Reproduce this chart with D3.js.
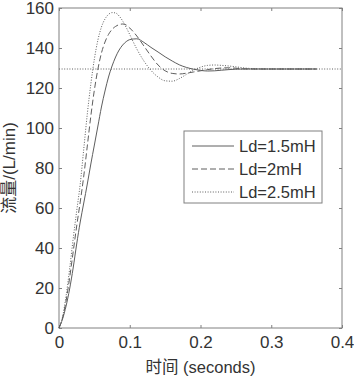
<!DOCTYPE html>
<html><head><meta charset="utf-8">
<script src="https://cdn.jsdelivr.net/npm/d3@7"></script>
<style>html,body{margin:0;padding:0;background:#fff;}svg{display:block;}</style>
</head><body>
<script>
const timeS = [0,0.005,0.01,0.015,0.02,0.025,0.03,0.035,0.04,0.045,0.05,0.055,0.06,0.065,0.07,0.075,0.08,0.085,0.09,0.095,0.1,0.11,0.12,0.13,0.14,0.15,0.16,0.17,0.18,0.19,0.2,0.21,0.22,0.23,0.24,0.25,0.26,0.28,0.3,0.33,0.364];
const ld15 = [0,4.5,11,19.5,30,42,53,62.5,72,82,91.5,101,110.5,118.5,125.5,131,135.5,139,141.5,143.2,144.2,144.6,142.8,140.3,138,135.6,133.5,131.6,130.3,129.4,128.8,128.5,128.6,128.9,129.2,129.4,129.5,129.5,129.5,129.5,129.5];
const ld2 = [0,5,13.5,25,38,51,63,76,91,106,119,129.5,137.5,143,146.8,149.3,150.8,151.7,152,151.5,150,146,141,136,131.5,128.6,127.3,127,127.4,128,128.6,129.2,129.7,130,130.1,129.9,129.6,129.5,129.5,129.5,129.5];
const ld25 = [0,5.5,16,29.5,44.5,58.5,72,89.5,107,122,134.5,144,150.5,154.5,156.8,157.7,157.5,156,153.5,150.3,146.7,139.5,133.5,128.8,125.5,123.6,123.4,124.7,126.8,128.9,130.4,131.3,131.5,131.3,131,130.6,130.1,129.6,129.5,129.5,129.5];
const refValue = 129.5;
const xTicks = [0,0.1,0.2,0.3,0.4];
const yTicks = [0,20,40,60,80,100,120,140,160];
const seriesNames = ["Ld=1.5mH","Ld=2mH","Ld=2.5mH"];
const seriesData = [ld15, ld2, ld25];
const dashes = [null, "6,3", "1,1.6"];

const W = 354, H = 376;
const m = {l:59, r:12, t:8, b:48};
const svg = d3.select("body").append("svg").attr("width",W).attr("height",H);
const x = d3.scaleLinear().domain([0,0.4]).range([m.l, W-m.r]);
const y = d3.scaleLinear().domain([0,160]).range([H-m.b, m.t]);
const axisCol = "#808080", textCol = "#333", lineCol = "#5e5e5e";
const font = "Liberation Sans, Arial, sans-serif";

svg.append("rect").attr("x",x(0)).attr("y",y(160)).attr("width",x(0.4)-x(0)).attr("height",y(0)-y(160))
  .attr("fill","none").attr("stroke",axisCol).attr("stroke-width",1);

const tl = 3;
const gx = svg.append("g").attr("transform",`translate(0,${y(0)})`)
  .call(d3.axisBottom(x).tickValues(xTicks).tickSize(-tl).tickPadding(8).tickFormat(d=>d===0?"0":d3.format(".1f")(d)));
const gxt = svg.append("g").attr("transform",`translate(0,${y(160)})`)
  .call(d3.axisTop(x).tickValues(xTicks).tickSize(-tl).tickFormat(""));
const gy = svg.append("g").attr("transform",`translate(${x(0)},0)`)
  .call(d3.axisLeft(y).tickValues(yTicks).tickSize(-tl).tickPadding(5));
const gyr = svg.append("g").attr("transform",`translate(${x(0.4)},0)`)
  .call(d3.axisRight(y).tickValues(yTicks).tickSize(-tl).tickFormat(""));
[gx,gxt,gy,gyr].forEach(g=>{
  g.select(".domain").remove();
  g.selectAll(".tick line").attr("stroke",axisCol);
  g.selectAll("text").attr("fill",textCol).style("font-family",font).style("font-size","17px");
});

svg.append("line").attr("x1",x(0)).attr("x2",x(0.4)).attr("y1",y(refValue)).attr("y2",y(refValue))
  .attr("stroke",lineCol).attr("stroke-width",1).attr("stroke-dasharray","1,1.6");

const line = d3.line().x((d,i)=>x(timeS[i])).y(d=>y(d)).curve(d3.curveMonotoneX);
seriesData.forEach((s,k)=>{
  svg.append("path").attr("d",line(s)).attr("fill","none").attr("stroke",lineCol)
    .attr("stroke-width",1).attr("stroke-dasharray",dashes[k]);
});

const lg = svg.append("g").attr("transform","translate(184,131)");
lg.append("rect").attr("width",138).attr("height",72).attr("fill","#fff").attr("stroke",axisCol);
seriesNames.forEach((n,k)=>{
  const yy = 15 + k*23;
  lg.append("line").attr("x1",8).attr("x2",50).attr("y1",yy).attr("y2",yy)
    .attr("stroke",lineCol).attr("stroke-dasharray",dashes[k]);
  lg.append("text").attr("x",55).attr("y",yy).attr("dy","0.35em").text(n)
    .attr("fill",textCol).style("font-family",font).style("font-size","16.5px");
});

svg.append("text").attr("x",(x(0)+x(0.4))/2).attr("y",373).attr("text-anchor","middle")
  .attr("fill",textCol).style("font-family","Liberation Sans, 'Noto Sans CJK SC', sans-serif").style("font-size","16.5px")
  .text("时间 (seconds)");
svg.append("text").attr("transform",`translate(15,${(y(0)+y(160))/2}) rotate(-90)`).attr("text-anchor","middle")
  .attr("fill",textCol).style("font-family","Liberation Sans, 'Noto Sans CJK SC', sans-serif").style("font-size","17px")
  .text("流量/(L/min)");
</script>
</body></html>
